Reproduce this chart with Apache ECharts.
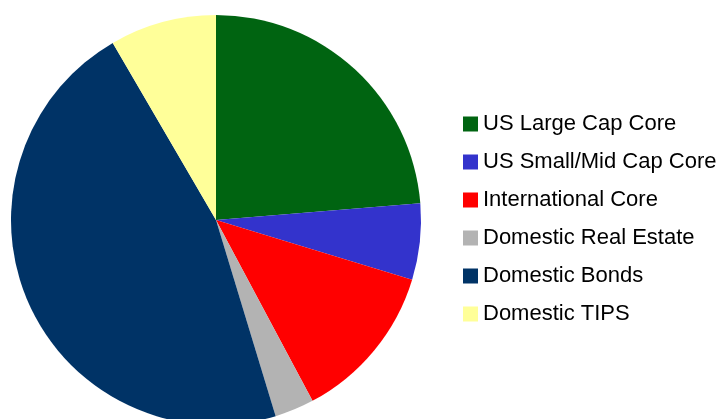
<!DOCTYPE html>
<html>
<head>
<meta charset="utf-8">
<script src="https://cdn.jsdelivr.net/npm/echarts@6/dist/echarts.min.js"></script>
<style>
  html, body { margin: 0; padding: 0; background: #fff; }
  #chart { width: 724px; height: 419px; }
</style>
</head>
<body>
<div id="chart"></div>
<script>
// asset classes and their share of the portfolio (%)
var categories = ['US Large Cap Core', 'US Small/Mid Cap Core', 'International Core',
  'Domestic Real Estate', 'Domestic Bonds', 'Domestic TIPS']
var shares = [23.7, 6, 12.5, 3.1, 46.3, 8.4]
var colors = ['#006411', '#3333cc', '#ff0000', '#b3b3b3', '#003366', '#ffff99']

var chart = echarts.init(document.getElementById('chart'))

chart.setOption({
  animation: false,
  color: colors,
  legend: {
    orient: 'vertical',
    left: 458,
    top: 108,
    itemWidth: 15,
    itemHeight: 15,
    itemGap: 16,
    icon: 'rect',
    textStyle: {
      fontFamily: 'Liberation Sans',
      fontSize: 22,
      lineHeight: 22,
      color: '#000'
    },
    data: categories
  },
  series: [{
    type: 'pie',
    center: [216, 220],
    radius: 205,
    startAngle: 90,
    clockwise: true,
    label: { show: false },
    labelLine: { show: false },
    emphasis: { disabled: true },
    itemStyle: { borderWidth: 0 },
    data: categories.map(function (name, i) {
      return { name: name, value: shares[i] }
    })
  }]
})
</script>
</body>
</html>
